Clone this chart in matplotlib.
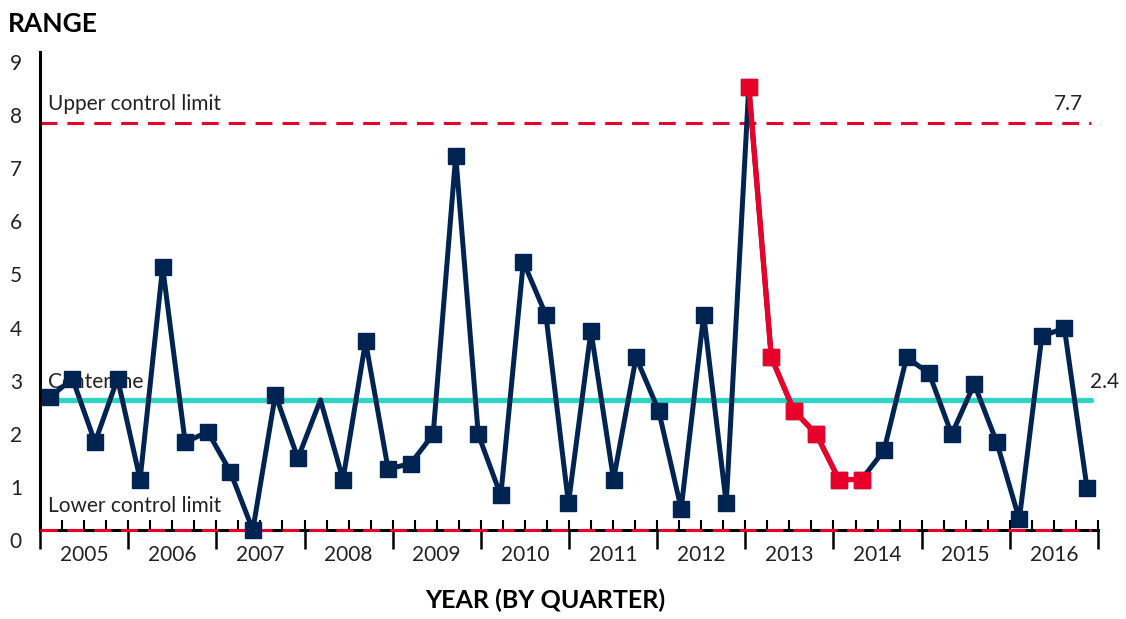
import matplotlib.pyplot as plt
import numpy as np
from matplotlib.transforms import ScaledTranslation

plt.rcParams['font.family'] = ['Lato', 'DejaVu Sans']

# data (range per quarter)
years = ['2005', '2006', '2007', '2008', '2009', '2010',
         '2011', '2012', '2013', '2014', '2015', '2016']
ranges = [2.5, 2.85, 1.65, 2.85, 0.95, 4.95, 1.65, 1.85, 1.1, 0.0,
          2.55, 1.35, 2.45, 0.95, 3.55, 1.15, 1.25, 1.8, 7.05, 1.8,
          0.65, 5.05, 4.05, 0.5, 3.75, 0.95, 3.25, 2.25, 0.4, 4.05,
          0.5, 8.35, 3.25, 2.25, 1.8, 0.95, 0.95, 1.5, 3.25, 2.95,
          1.8, 2.75, 1.65, 0.2, 3.65, 3.8, 0.8]
red_start, red_end = 31, 37   # highlighted run
no_marker = [12]              # point drawn without a marker
ucl = 7.66
center = 2.45
lcl = 0.0
limit_labels = ['7.7', '2.4']

navy = '#002452'
red = '#E8002A'
teal = '#2CD5C4'
fs = 15

fig = plt.figure(figsize=(11.26, 6.19), dpi=100)
pos = [40 / 1126, 89 / 619, 1058 / 1126, 478 / 619]

# axis with quarter ticks
ax = fig.add_axes(pos)
ax.set_xlim(0, 48)
ax.set_ylim(0, 9)
for s in ['top', 'right']:
    ax.spines[s].set_visible(False)
ax.spines['left'].set_linewidth(2.2)
ax.spines['bottom'].set_linewidth(2.2)

ax.set_xticks(np.arange(0, 49, 4))
ax.set_xticklabels([])
ax.set_xticks(np.arange(0, 49), minor=True)
ax.xaxis.remove_overlapping_locs = False
ax.tick_params(axis='x', which='major', direction='out', length=14, width=1.8)
ax.tick_params(axis='x', which='minor', direction='in', length=7, width=1.5)

ax.set_yticks(range(10))
ax.tick_params(axis='y', length=0, pad=13, labelsize=fs, labelcolor='#222222')
for lab in ax.get_yticklabels():
    lab.set_transform(lab.get_transform() + ScaledTranslation(0, -0.1, fig.dpi_scale_trans))

sec = ax.secondary_xaxis('bottom')
sec.set_xticks(np.arange(2, 48, 4))
sec.set_xticklabels(years)
sec.tick_params(length=0, pad=11, labelsize=fs, labelcolor='#222222')
sec.spines['bottom'].set_visible(False)

# control limits
ax.plot([0, 47.7], [ucl, ucl], color=red, lw=2.2, dashes=(5.5, 3.3), clip_on=False)
ax.plot([0, 47.7], [lcl, lcl], color=red, lw=2.2, dashes=(5.5, 3.3), clip_on=False, zorder=3)
ax.plot([0, 47.7], [center, center], color=teal, lw=3.8, solid_capstyle='round', zorder=1)

ax.text(0.36, ucl + 0.25, 'Upper control limit', fontsize=fs, color='#222222', va='baseline')
ax.text(47.3, ucl + 0.25, limit_labels[0], fontsize=fs, color='#222222', va='baseline', ha='right')
ax.text(0.36, center + 0.22, 'Centerline', fontsize=fs, color='#222222', va='baseline', zorder=0)
ax.text(47.65, center + 0.22, limit_labels[1], fontsize=fs, color='#222222', va='baseline')
ax.text(0.36, lcl + 0.34, 'Lower control limit', fontsize=fs, color='#222222', va='baseline')

# data axis overlay
axd = fig.add_axes(pos)
axd.set_xlim(-0.44, 46.49)
axd.set_ylim(0, 9)
axd.axis('off')
axd.patch.set_visible(False)

x = np.arange(len(ranges))
marks = [i for i in x if i not in no_marker]
axd.plot(x, ranges, color=navy, lw=3.6, marker='s', markersize=11.5,
         markevery=marks, clip_on=False)
axd.plot(x[red_start:red_end], ranges[red_start:red_end], color=red, lw=3.8,
         marker='s', markersize=11.5, clip_on=False)

fig.text(8 / 1126, 1 - 32 / 619, 'RANGE', fontsize=19, fontweight='bold', va='baseline')
fig.text(545 / 1126, 1 - 608 / 619, 'YEAR (BY QUARTER)', fontsize=18, fontweight='bold',
         va='baseline', ha='center')

fig.savefig('out.png', dpi=100)
